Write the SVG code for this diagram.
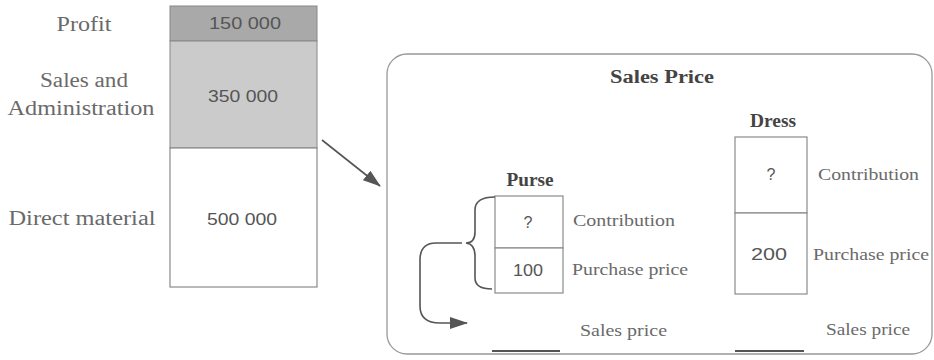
<svg xmlns="http://www.w3.org/2000/svg" width="934" height="360" viewBox="0 0 934 360">
<defs>
<style>
.lbl{font-family:"Liberation Serif",serif;font-size:20px;fill:#6a6a6a;text-anchor:middle}
.sm{font-family:"Liberation Serif",serif;font-size:17px;fill:#6a6a6a}
.num{font-family:"Liberation Sans",sans-serif;font-size:16px;fill:#555;text-anchor:middle}
.hd{font-family:"Liberation Serif",serif;font-size:18px;font-weight:bold;fill:#444;text-anchor:middle}
.box{fill:#fff;stroke:#8a8a8a;stroke-width:1.2}
.ln{fill:none;stroke:#555;stroke-width:1.6}
</style>
<marker id="ah" markerWidth="18" markerHeight="12" refX="17" refY="6" orient="auto" markerUnits="userSpaceOnUse">
<path d="M0,0 L18,6 L0,12 Z" fill="#555"/>
</marker>
</defs>
<g id="cost-stack">
<rect x="170" y="6" width="147" height="35" fill="#a9a9a9" stroke="#888"/>
<rect x="170" y="41" width="147" height="107" fill="#cbcbcb" stroke="#888"/>
<rect x="170" y="148" width="147" height="139" class="box"/>
<text class="num" x="245" y="29" textLength="72" lengthAdjust="spacingAndGlyphs">150 000</text>
<text class="num" x="243" y="102" textLength="70" lengthAdjust="spacingAndGlyphs">350 000</text>
<text class="num" x="242" y="225" textLength="70" lengthAdjust="spacingAndGlyphs">500 000</text>
<text class="lbl" x="84" y="31" textLength="55" lengthAdjust="spacingAndGlyphs">Profit</text>
<text class="lbl" x="84" y="87" textLength="88" lengthAdjust="spacingAndGlyphs">Sales and</text>
<text class="lbl" x="81" y="115" textLength="147" lengthAdjust="spacingAndGlyphs">Administration</text>
<text class="lbl" x="82" y="225" textLength="147" lengthAdjust="spacingAndGlyphs">Direct material</text>
</g>
<g id="sales-price-panel">
<rect x="387" y="54" width="545" height="300" rx="20" fill="#fff" stroke="#999" stroke-width="1.3"/>
<text class="hd" x="662" y="83" textLength="104" lengthAdjust="spacingAndGlyphs">Sales Price</text>
</g>
<g id="purse">
<text class="hd" x="530" y="186" textLength="47" lengthAdjust="spacingAndGlyphs">Purse</text>
<rect x="495" y="196" width="68" height="52" class="box"/>
<rect x="495" y="248" width="68" height="45" class="box"/>
<text class="num" x="528" y="228">?</text>
<text class="num" x="528" y="276" textLength="30" lengthAdjust="spacingAndGlyphs">100</text>
<text class="sm" x="573" y="226" textLength="102" lengthAdjust="spacingAndGlyphs">Contribution</text>
<text class="sm" x="572" y="275" textLength="116" lengthAdjust="spacingAndGlyphs">Purchase price</text>
<text class="sm" x="580" y="336" textLength="87" lengthAdjust="spacingAndGlyphs">Sales price</text>
<line x1="492" y1="351" x2="560" y2="351" stroke="#555" stroke-width="2"/>
</g>
<g id="dress">
<text class="hd" x="773" y="127" textLength="46" lengthAdjust="spacingAndGlyphs">Dress</text>
<rect x="735" y="137" width="72" height="76" class="box"/>
<rect x="735" y="213" width="72" height="81" class="box"/>
<text class="num" x="771" y="180">?</text>
<text class="num" x="769" y="260" textLength="36" lengthAdjust="spacingAndGlyphs">200</text>
<text class="sm" x="818" y="180" textLength="101" lengthAdjust="spacingAndGlyphs">Contribution</text>
<text class="sm" x="813" y="260" textLength="116" lengthAdjust="spacingAndGlyphs">Purchase price</text>
<text class="sm" x="826" y="335" textLength="84" lengthAdjust="spacingAndGlyphs">Sales price</text>
<line x1="735" y1="351" x2="804" y2="351" stroke="#555" stroke-width="2"/>
</g>
<g id="connectors">
<line x1="322" y1="140" x2="380" y2="186" class="ln" stroke-width="2" marker-end="url(#ah)"/>
<path class="ln" d="M495,197 Q475,197 475,210 L475,232 Q475,243 466,243 Q475,244 475,256 L475,278 Q475,289 492,289"/>
<path class="ln" d="M462,243 L436,243 Q420,243 420,260 L420,306 Q420,323 440,323 L467,323" marker-end="url(#ah)"/>
</g>
</svg>
